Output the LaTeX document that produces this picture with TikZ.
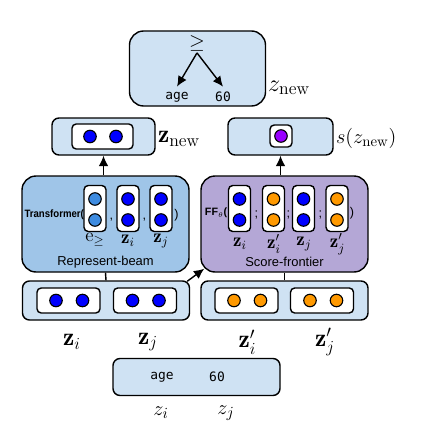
\documentclass[tikz,border=0pt]{standalone}
\usepackage{amsmath,amssymb}
\usepackage{fontspec}
\newfontfamily\labelfont{Liberation Sans}
\newfontfamily\codefont{DejaVu Sans Mono}
\usepackage{tikz}
\usetikzlibrary{arrows.meta,positioning,calc}
\definecolor{BoxLight}{HTML}{CFE2F3}
\definecolor{BeamBlue}{HTML}{9FC5E8}
\definecolor{FrontPurple}{HTML}{B4A7D6}
\definecolor{DotBlue}{HTML}{0000FF}
\definecolor{DotSky}{HTML}{3D8BE0}
\definecolor{DotOrange}{HTML}{FF9900}
\definecolor{DotPurple}{HTML}{9900FF}
\newcommand{\pxu}{0.025cm}

\begin{document}
\begin{tikzpicture}[x=\pxu, y=-\pxu, line width=1pt,
    panel/.style={draw,fill=BoxLight,rounded corners=5pt,inner sep=0pt},
    stage/.style={draw,rounded corners=10pt,inner sep=0pt,minimum width=167*\pxu,minimum height=96*\pxu},
    hvec/.style={draw,fill=white,rounded corners=3pt,inner sep=0pt,minimum width=63*\pxu,minimum height=25*\pxu},
    vvec/.style={draw,fill=white,rounded corners=3pt,inner sep=0pt,minimum width=22*\pxu,minimum height=46*\pxu},
    dot/.style={circle,draw,line width=0.8pt,inner sep=0pt,minimum size=12.5*\pxu},
    code/.style={font=\codefont\fontsize{9.2}{11}\selectfont},
    tag/.style={font=\labelfont\fontsize{9.2}{11}\selectfont},
    sep/.style={inner sep=0pt,font=\labelfont\fontsize{9}{11}\selectfont},
    big/.style={font=\fontsize{18}{20}\selectfont},
    mid/.style={font=\fontsize{13.5}{15}\selectfont},
    arr/.style={-{Latex[length=2.6mm,width=2.4mm]}}]
    \useasboundingbox (0,0) rectangle (432,433);
    % top: new rule as a tree
    \node[panel,rounded corners=10pt,minimum width=136*\pxu,minimum height=75*\pxu] (tree) at (197.5,68.5) {};
    \node[font=\fontsize{15}{17}\selectfont,inner sep=1pt] (ge) at (197,43) {$\geq$};
    \node[code] (age) at (177,97) {age};
    \node[code] (sixty) at (223,97) {60};
    \draw[arr] (ge.south) -- (age.north); \draw[arr] (ge.south) -- (sixty.north);
    \node[big,anchor=west,inner sep=1pt] (treelab) at (266,88) {$z_{\mathrm{new}}$};
    % embeddings of the new rule
    \node[panel,minimum width=103*\pxu,minimum height=37*\pxu] (znew) at (103.5,136.5) {};
    \node[hvec,minimum width=61*\pxu] (znewv) at (102.5,136.5) {};
    \node[big,anchor=west,inner sep=1pt] (znewlab) at (156,139) {$\mathbf{z}_{\mathrm{new}}$};
    \node[panel,minimum width=105*\pxu,minimum height=37*\pxu] (sbox) at (280.5,136.5) {};
    \node[vvec,minimum height=22*\pxu] (sv) at (281,136) {};
    \node[font=\fontsize{15}{17}\selectfont,anchor=west,inner sep=1pt] (slab) at (334,138) {$s(z_{\mathrm{new}})$};
    % the two stages
    \node[stage,fill=BeamBlue] (beam) at (105.5,224) {};
    \node[stage,fill=FrontPurple] (score) at (284.5,224) {};
    \node[font=\labelfont\bfseries\fontsize{7.6}{9}\selectfont,anchor=east,inner sep=0pt,xscale=0.9] (tf) at (84.5,215) {Transformer(};
    \node[vvec] (be) at (95,208.5) {};
    \node[vvec] (bi) at (128,208.5) {};
    \node[vvec] (bj) at (161,208.5) {};
    \node[sep] (c1) at (111.5,220) {,};
    \node[sep] (c2) at (144.5,220) {,};
    \node[sep] (tfend) at (176.5,215) {)};
    \node[mid] (le) at (95,240) {$\mathrm{e}_{\geq}$};
    \node[mid] (li) at (128,241) {$\mathbf{z}_i$};
    \node[mid] (lj) at (161,241) {$\mathbf{z}_j$};
    \node[tag] (beamtag) at (105.5,262) {Represent-beam};
    \node[font=\labelfont\bfseries\fontsize{7.6}{9}\selectfont,anchor=east,inner sep=0pt] (ff) at (228,213) {FF$_\theta$(};
    \node[vvec] (s1) at (239.5,208.5) {};
    \node[vvec] (s2) at (273.5,208.5) {};
    \node[vvec] (s3) at (303.5,208.5) {};
    \node[vvec] (s4) at (337,208.5) {};
    \node[sep] (sc1) at (256.5,215) {;};
    \node[sep] (sc2) at (288.5,215) {;};
    \node[sep] (sc3) at (320.5,215) {;};
    \node[sep] (ffend) at (352,213) {)};
    \node[mid] (ls1) at (240,244) {$\mathbf{z}_i$};
    \node[mid] (ls2) at (274,244) {$\mathbf{z}'_i$};
    \node[mid] (ls3) at (304,244) {$\mathbf{z}_j$};
    \node[mid] (ls4) at (337.5,244) {$\mathbf{z}'_j$};
    \node[tag] (scoretag) at (284.5,262) {Score-frontier};
    % beam and frontier inputs
    \node[panel,minimum width=167*\pxu,minimum height=39*\pxu] (lowl) at (106,300.5) {};
    \node[panel,minimum width=167*\pxu,minimum height=39*\pxu] (lowr) at (284.5,300.5) {};
    \node[hvec] (vi) at (68.5,300.5) {};
    \node[hvec] (vj) at (145,300.5) {};
    \node[hvec] (vip) at (246.5,300.5) {};
    \node[hvec] (vjp) at (322,300.5) {};
    \node[big] (bi2) at (72,342) {$\mathbf{z}_i$};
    \node[big] (bj2) at (148,342) {$\mathbf{z}_j$};
    \node[big] (bip) at (247.5,342) {$\mathbf{z}'_i$};
    \node[big] (bjp) at (325,342) {$\mathbf{z}'_j$};
    % the pair of atoms
    \node[panel,minimum width=167*\pxu,minimum height=37*\pxu] (pair) at (196.5,377) {};
    \node[code] (page) at (162,377) {age};
    \node[code] (psixty) at (217,377) {60};
    \node[font=\fontsize{15}{17}\selectfont] (pzi) at (161,413) {$z_i$};
    \node[font=\fontsize{15}{17}\selectfont] (pzj) at (226,413) {$z_j$};
    % dots
    \foreach \nm/\xx/\yy/\col in {d1/90/136.5/DotBlue,d2/116/136.5/DotBlue,d3/281/136/DotPurple,
        e1/95/199/DotSky,e2/95/220/DotSky,i1/128/199/DotBlue,i2/128/220/DotBlue,j1/161/199/DotBlue,j2/161/220/DotBlue,
        f1/239.5/199/DotBlue,f2/239.5/220/DotBlue,f3/273.5/199/DotOrange,f4/273.5/220/DotOrange,
        f5/303.5/199/DotBlue,f6/303.5/220/DotBlue,f7/337/199/DotOrange,f8/337/220/DotOrange,
        g1/56/300.5/DotBlue,g2/82.5/300.5/DotBlue,g3/132.5/300.5/DotBlue,g4/159/300.5/DotBlue,
        g5/234/300.5/DotOrange,g6/260.5/300.5/DotOrange,g7/310/300.5/DotOrange,g8/336.5/300.5/DotOrange}
      \node[dot,fill=\col] (\nm) at (\xx,\yy) {};
    % connectors
    \draw[arr] (beam.north -| znew.south) -- (znew.south);
    \draw[arr] (score.north -| sbox.south) -- (sbox.south);
    \draw (lowl.north) -- (beam.south); \draw (lowr.north) -- (score.south);
    \draw[arr] ([shift={(-3,1)}]lowl.north east) -- ([shift={(4,-4)}]score.south west);
  \end{tikzpicture}
\end{document}
